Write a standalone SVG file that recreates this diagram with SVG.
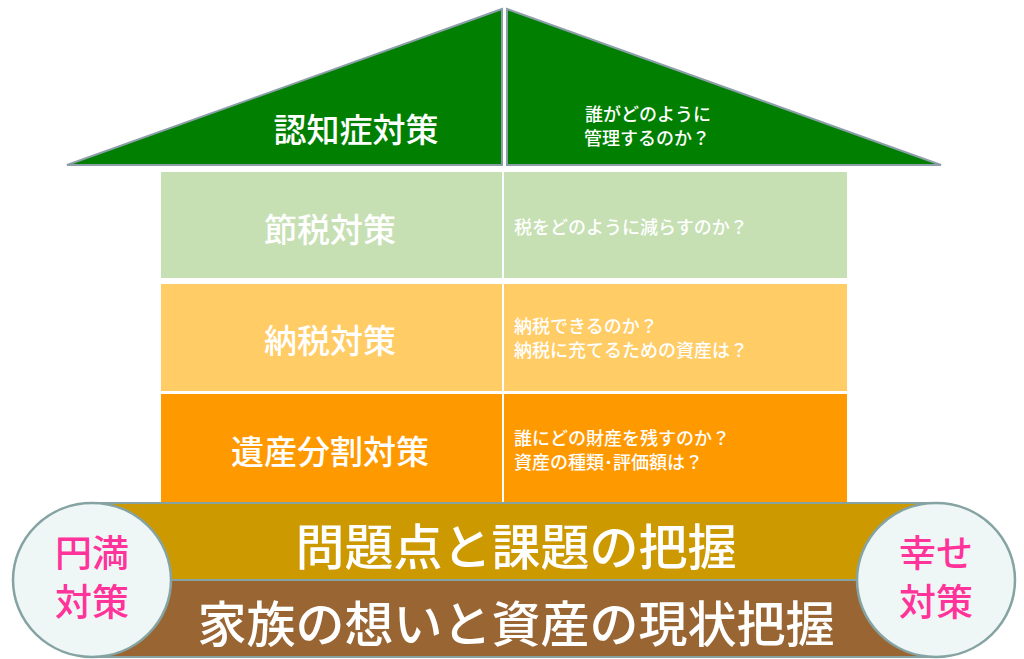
<svg xmlns="http://www.w3.org/2000/svg" width="1024" height="659" viewBox="0 0 1024 659">
<style>
text{font-family:"Noto Sans CJK JP","Noto Sans",sans-serif;}
.roof{fill:#007f00;stroke:#8c9ea8;stroke-width:2;}
.cell{stroke:#ffffff;stroke-width:2;}
.big{fill:#ffffff;font-size:33px;font-weight:500;text-anchor:middle;}
.small{fill:#ffffff;font-size:18px;font-weight:500;}
.band{stroke:#86a3a3;stroke-width:2;}
.bandtxt{fill:#ffffff;font-size:49px;font-weight:500;text-anchor:middle;}
.end{fill:#eef7f6;stroke:#86a3a3;stroke-width:2.5;}
.pink{fill:#ff3399;font-size:37px;font-weight:500;text-anchor:middle;}
</style>
<rect width="1024" height="659" fill="#ffffff"/>
<g id="roof-left">
<polygon class="roof" points="67,165 502,9 502,165"/>
<text class="big" x="356" y="142">認知症対策</text>
</g>
<g id="roof-right">
<polygon class="roof" points="507,9 507,165 941,165"/>
<text class="small" x="585" y="121">誰がどのように</text>
<text class="small" x="584" y="145">管理するのか？</text>
</g>
<g id="row-setsuzei">
<rect class="cell" x="160" y="171" width="343" height="108" fill="#c6e0b4"/>
<rect class="cell" x="503" y="171" width="345" height="108" fill="#c6e0b4"/>
<text class="big" x="330" y="242">節税対策</text>
<text class="small" x="514" y="234">税をどのように減らすのか？</text>
</g>
<g id="row-nouzei">
<rect class="cell" x="160" y="283" width="343" height="109" fill="#ffcc66"/>
<rect class="cell" x="503" y="283" width="345" height="109" fill="#ffcc66"/>
<text class="big" x="330" y="353">納税対策</text>
<text class="small" x="514" y="333">納税できるのか？</text>
<text class="small" x="514" y="357">納税に充てるための資産は？</text>
</g>
<g id="row-isan">
<rect class="cell" x="160" y="393" width="343" height="110" fill="#ff9900"/>
<rect class="cell" x="503" y="393" width="345" height="110" fill="#ff9900"/>
<text class="big" x="330" y="464">遺産分割対策</text>
<text class="small" x="514" y="445">誰にどの財産を残すのか？</text>
<text class="small" x="514" y="469">資産の種類･評価額は？</text>
</g>
<g id="band-top">
<rect class="band" x="92" y="503" width="844" height="77" fill="#cc9900"/>
<text class="bandtxt" x="516" y="565">問題点と課題の把握</text>
</g>
<g id="band-bottom">
<rect class="band" x="92" y="580" width="844" height="77" fill="#996633"/>
<text class="bandtxt" x="516" y="642">家族の想いと資産の現状把握</text>
</g>
<g id="end-left">
<ellipse class="end" cx="92" cy="580" rx="79" ry="77"/>
<text class="pink" x="92" y="567">円満</text>
<text class="pink" x="92" y="616">対策</text>
</g>
<g id="end-right">
<ellipse class="end" cx="936" cy="580" rx="79" ry="77"/>
<text class="pink" x="936" y="567">幸せ</text>
<text class="pink" x="936" y="616">対策</text>
</g>
<g id="connectors"></g>
</svg>
